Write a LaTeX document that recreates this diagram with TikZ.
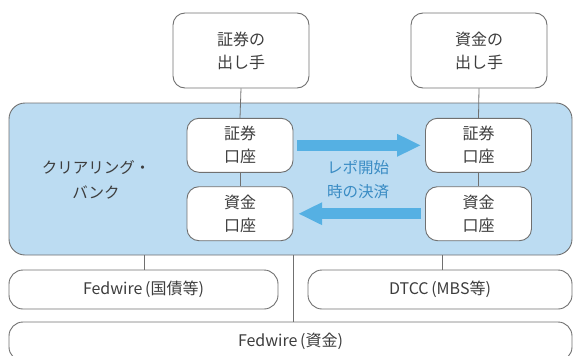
\documentclass[tikz,border=0pt]{standalone}
\usepackage{fontspec}
\setmainfont{Noto Sans CJK JP}
\usetikzlibrary{arrows.meta}
\definecolor{linegray}{HTML}{707070}
\definecolor{textgray}{HTML}{3D3D3D}
\definecolor{bankblue}{HTML}{BCDCF2}
\definecolor{arrowblue}{HTML}{55B0E3}
\definecolor{labelblue}{HTML}{3A8CC4}
\tikzset{
  box/.style={draw=linegray, line width=0.9pt, fill=white, rounded corners=12pt,
    align=center, text=textgray, inner sep=0pt, font=\fontsize{16}{23}\selectfont},
  topbox/.style={box, minimum width=136pt, minimum height=75pt},
  acct/.style={box, minimum width=106pt, minimum height=54pt},
  sysbox/.style={box, rounded corners=14pt, minimum height=39pt},
  link/.style={draw=linegray, line width=0.8pt},
  flow/.style={draw=arrowblue, line width=11pt, -{Triangle[length=24pt, width=21pt]}},
}
\begin{document}
\begin{tikzpicture}[x=1pt, y=-1pt]
\useasboundingbox (0,0) rectangle (573,356);
% clearing bank
\node[draw=linegray, line width=0.9pt, fill=bankblue, rounded corners=16pt,
      minimum width=563pt, minimum height=152pt, inner sep=0pt] (bank) at (290.5,179) {};
\node[text=textgray, align=center, font=\fontsize{15.5}{25}\selectfont] (banklabel) at (96,180) {クリアリング・\\バンク};
% top boxes
\node[topbox] (secgiver) at (241,50.5) {証券の\\出し手};
\node[topbox] (cashgiver) at (479,50.5) {資金の\\出し手};
% accounts
\node[acct] (lsec) at (240,145.3) {証券\\口座};
\node[acct] (lcash) at (240,213.7) {資金\\口座};
\node[acct] (rsec) at (478.5,145.3) {証券\\口座};
\node[acct] (rcash) at (478.5,213.7) {資金\\口座};
% settlement systems
\node[sysbox, minimum width=269pt] (fwsec) at (143.5,289.5) {Fedwire\,(国債等)};
\node[sysbox, minimum width=264pt] (dtcc) at (440,289.5) {DTCC\,(MBS等)};
\node[sysbox, minimum width=563pt] (fwcash) at (290.5,341.5) {Fedwire\,(資金)};
% connectors
\draw[link] (secgiver.south) -- (lsec.north);
\draw[link] (cashgiver.south) -- (rsec.north);
\draw[link] (lsec.south) -- (lcash.north);
\draw[link] (rsec.south) -- (rcash.north);
\coordinate (c1) at (144,0);
\coordinate (c2) at (293,0);
\coordinate (c3) at (442,0);
\draw[link] (c1 |- bank.south) -- (c1 |- fwsec.north);
\draw[link] (c2 |- bank.south) -- (c2 |- fwcash.north);
\draw[link] (c3 |- bank.south) -- (c3 |- dtcc.north);
% flows
\draw[flow, shorten <=3.7pt, shorten >=4pt] (lsec.east) -- (rsec.west);
\draw[flow, shorten <=4pt, shorten >=4.7pt] (rcash.west) -- (lcash.east);
\node[text=labelblue, align=center, font=\fontsize{15.5}{24}\selectfont] (flowlabel) at (358,180) {レポ開始\\時の決済};
\end{tikzpicture}
\end{document}
